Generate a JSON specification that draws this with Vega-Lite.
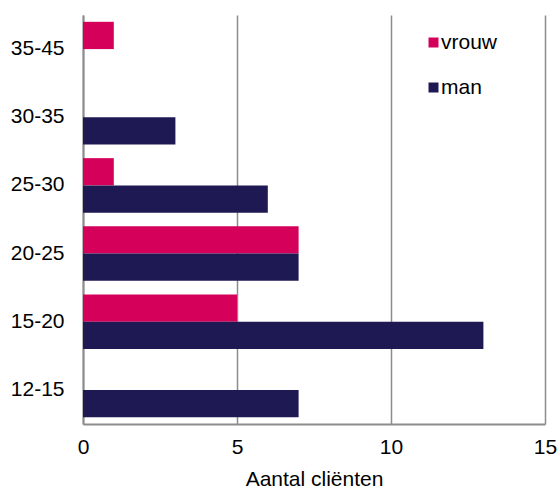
{
  "$schema": "https://vega.github.io/schema/vega-lite/v6.json",
  "width": 462,
  "height": 409,
  "autosize": {"type": "none"},
  "padding": {"left": 83, "top": 15, "right": 14, "bottom": 68},
  "background": "white",
  "config": {
    "view": {"stroke": null},
    "font": "Liberation Sans",
    "axis": {"labelFont": "Liberation Sans", "titleFont": "Liberation Sans", "labelColor": "#000", "titleColor": "#000"}
  },
  "data": {
    "values": [
      {"leeftijd": "35-45", "geslacht": "vrouw", "aantal": 1},
      {"leeftijd": "35-45", "geslacht": "man", "aantal": 0},
      {"leeftijd": "30-35", "geslacht": "vrouw", "aantal": 0},
      {"leeftijd": "30-35", "geslacht": "man", "aantal": 3},
      {"leeftijd": "25-30", "geslacht": "vrouw", "aantal": 1},
      {"leeftijd": "25-30", "geslacht": "man", "aantal": 6},
      {"leeftijd": "20-25", "geslacht": "vrouw", "aantal": 7},
      {"leeftijd": "20-25", "geslacht": "man", "aantal": 7},
      {"leeftijd": "15-20", "geslacht": "vrouw", "aantal": 5},
      {"leeftijd": "15-20", "geslacht": "man", "aantal": 13},
      {"leeftijd": "12-15", "geslacht": "vrouw", "aantal": 0},
      {"leeftijd": "12-15", "geslacht": "man", "aantal": 7}
    ]
  },
  "mark": {"type": "bar"},
  "encoding": {
    "y": {
      "field": "leeftijd",
      "type": "nominal",
      "sort": ["35-45", "30-35", "25-30", "20-25", "15-20", "12-15"],
      "scale": {"paddingInner": 0.2, "paddingOuter": 0.1},
      "axis": {
        "title": null,
        "ticks": false,
        "labelPadding": 19,
        "labelFontSize": 21,
        "domainColor": "#8c8c8c",
        "domainWidth": 2,
        "grid": false
      }
    },
    "yOffset": {
      "field": "geslacht",
      "type": "nominal",
      "sort": ["vrouw", "man"]
    },
    "x": {
      "field": "aantal",
      "type": "quantitative",
      "scale": {"domain": [0, 15]},
      "axis": {
        "title": "Aantal cliënten",
        "values": [0, 5, 10, 15],
        "ticks": false,
        "labelFlush": false,
        "labelPadding": 12,
        "labelFontSize": 21,
        "titleFontSize": 21,
        "titleFontWeight": "normal",
        "titlePadding": 11,
        "domainColor": "#8c8c8c",
        "domainWidth": 2,
        "gridColor": "#8c8c8c",
        "gridWidth": 1.5,
        "gridOpacity": 1
      }
    },
    "color": {
      "field": "geslacht",
      "type": "nominal",
      "sort": ["vrouw", "man"],
      "scale": {"domain": ["vrouw", "man"], "range": ["#D5005A", "#1E1952"]},
      "legend": {
        "title": null,
        "orient": "none",
        "legendX": 340,
        "legendY": 17,
        "symbolType": "square",
        "symbolSize": 100,
        "symbolStrokeWidth": 0,
        "labelFontSize": 21,
        "labelFont": "Liberation Sans",
        "labelColor": "#000",
        "labelOffset": -3,
        "rowPadding": 23
      }
    }
  }
}
